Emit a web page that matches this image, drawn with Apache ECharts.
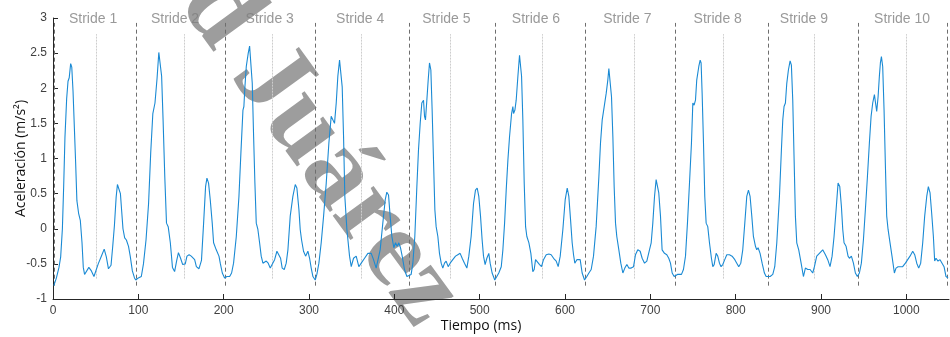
<!DOCTYPE html>
<html>
<head>
<meta charset="utf-8">
<script src="https://cdn.jsdelivr.net/npm/echarts@6/dist/echarts.min.js"></script>
<style>
  html, body { margin: 0; padding: 0; background: #fff; }
  #chart { width: 950px; height: 337px; }
</style>
</head>
<body>
<div id="chart"></div>
<script>
// señal de aceleración (tiempo en ms, aceleración en m/s²)
const tiempo = [
  1, 4, 7, 9, 11, 12.5, 14, 16, 17.6, 19, 20.7, 22, 23.5, 25, 26.5, 28, 30, 32, 34, 35.5,
  37, 39, 42, 45, 48, 50, 53, 57, 60, 62.5, 65, 68, 70, 72, 74, 75.5, 77.5, 79, 80.5, 82,
  84, 86, 88.5, 90.5, 93, 95.5, 97, 100, 103.5, 106, 109, 112, 114.5, 117, 119.5, 122, 124, 125.8, 127.3, 129,
  131, 133, 135, 137.5, 140, 142.5, 145, 147, 149.5, 152, 155, 157, 159.5, 162, 166, 168, 171, 174,
  176.5, 178.8, 180.4, 182.3, 184.3, 186.6, 188.2, 191.3, 194.5, 196, 198.4, 201.1, 203.8, 207, 209.3, 211.6,
  214.8, 217.9, 220.2, 222.6, 223.7, 224.9, 226.5, 228.8, 230.4, 231.9, 233.5, 235.1, 236.6, 238.2, 240.1, 242.1,
  244, 246, 247.9, 249.9, 252.2, 254.6, 256.9, 259.7, 262.4, 264.7, 266.7, 268.6, 271, 273.3, 275.3, 278,
  281.1, 283.9, 285.8, 288.2, 289.7, 291.3, 293.6, 296, 298.7, 300.7, 302.6, 304.6, 307.3, 309.2, 311.6, 314.3,
  317.1, 320.2, 323.3, 326, 328, 329.9, 331.9, 333.8, 335.8, 337.4, 338.9, 340.5, 342, 344.4, 347.5,
  349.5, 352.2, 355.3, 358.4, 361.2, 365.1, 369, 372.9, 375.6, 378.7, 380.7, 383.4, 386.5, 389.3, 391.2, 393.2,
  395.1, 397.1, 399.4, 401.4, 403.3, 405.3, 407.2, 409.2, 411.9, 414.7, 417, 419.7, 421.7, 424, 426.4, 428.3,
  430.3, 432.2, 434.2, 435.4, 436.5, 438.1, 439.7, 441.2, 442.8, 444.3, 445.9, 447.5, 449, 451, 452.9, 454.9,
  456.8, 458.8, 460.7, 463.1, 465.4, 468.5, 471.7, 474.4, 477.1, 479.5, 482.2, 485, 487.3, 490, 492.8, 495.1,
  497.1, 499, 501, 502.9, 504.5, 506.4, 508.4, 510.7, 512.3, 514.6, 517.7, 520.1, 522.4,
  525.3, 527.2, 529.2, 531.1, 533.1, 535, 537.4, 538.9, 539.7, 541.3, 542.8, 544.8, 546.7, 547.9, 549.1, 550.6,
  552.2, 553.8, 555.3, 557.7, 560, 562.3, 563.9, 565.5, 567.8, 570.2, 572.5, 574.8, 578, 581.1, 583.8, 586.6,
  589.7, 592, 594.4, 597.5, 600.2, 602.6, 604.5, 606.5, 608.4, 610, 611.5, 613.9, 615.8, 617.8, 620.1, 622.9,
  625.6, 628, 630.7, 633.4, 636.5, 639.7, 641.6, 643.6, 645.1, 646.7, 648.3, 650.2, 651.4, 652.9, 654.5, 656.1,
  657.6, 659.2, 660.7, 663.1, 665.4, 667.8, 670.1, 672.5, 674.8, 677.5, 680.3, 682.6, 685.3, 688.1, 690.4, 693.2,
  695.9, 699,
  701, 702.9, 704.9, 706.8, 708.4, 709.9, 711.9, 713.8, 716.6, 719.3, 721.6, 723.6, 725.6, 727.9, 729.5, 731.8,
  734.1, 736.5, 738.8, 741.2, 743.5, 745.9, 748.2, 749.8, 751.3, 752.9, 754.4, 756.8, 758.4, 759.5, 760.7, 762.3,
  763.8, 765.4, 767.3, 769.3, 771.6, 773.2, 774.8, 777.1, 779, 781, 782.9, 784.9, 787.2, 789.6, 792.7, 795.8,
  799, 801.3, 803.6, 806, 808.3, 810.7, 813, 815, 816.9, 818.9, 820.8, 823.2, 824.7, 826.3, 828.6, 831,
  833.7, 835.7, 838, 840.4, 843.5, 845.8, 848.2, 851.3, 853.6, 855.2, 856.7, 858.3, 859.9, 861.8, 863.8, 865.3,
  866.9, 868.5, 870, 871.6, 873.9,
  876.7, 879.4, 881.7, 884.5, 887.2, 890.3, 892.3, 895, 898.1, 902, 905.2, 907.9, 910.6, 913, 915.3, 917.7,
  920, 922, 923.9, 925.5, 927, 929.4, 931.7, 933.3, 935.6, 938, 940.3, 942.6, 945, 947.3, 949.7, 952,
  954.4, 956.7, 958.7, 960.6, 962.6, 963.7, 965.3, 966.9, 968.4, 969.6, 970.8, 972.3, 973.9, 975.4, 977, 978.6,
  980.9, 983.2, 986, 987.9, 990.3, 992.6, 995.7, 998.9, 1001.6, 1004.3, 1007.5, 1009.8, 1012.2, 1014.5, 1016.8, 1019.2,
  1021.5, 1023.9, 1025.8, 1027.8, 1029.7, 1031.7, 1033.2, 1034.8, 1037.1, 1039.5, 1041.8, 1044.2, 1046.5, 1048.9
];
const aceleracion = [
  -0.81, -0.70, -0.55, -0.40, 0.00, 0.60, 1.30, 1.85, 2.10, 2.15, 2.35, 2.30, 1.95, 1.45, 0.95, 0.40, 0.22, 0.12, -0.20, -0.55,
  -0.65, -0.63, -0.55, -0.60, -0.68, -0.66, -0.50, -0.38, -0.29, -0.40, -0.57, -0.52, -0.25, 0.05, 0.45, 0.63, 0.65, 0.50, 0.25, 0.00,
  -0.13, -0.16, -0.25, -0.39, -0.60, -0.70, -0.73, -0.70, -0.68, -0.50, -0.16, 0.36, 1.08, 1.64, 1.79, 2.15, 2.51, 2.50, 2.17, 1.55,
  0.74, 0.08, 0.03, -0.20, -0.55, -0.61, -0.45, -0.34, -0.42, -0.51, -0.50, -0.39, -0.37, -0.39, -0.44, -0.54, -0.57, -0.45,
  0.08, 0.60, 0.72, 0.65, 0.41, 0.08, -0.20, -0.30, -0.39, -0.49, -0.63, -0.70, -0.68, -0.68, -0.63, -0.49,
  -0.11, 0.46, 1.08, 1.69, 1.74, 2.02, 2.31, 2.50, 2.60, 2.59, 2.07, 1.31, 0.65, 0.08, -0.01, -0.20,
  -0.39, -0.49, -0.49, -0.46, -0.49, -0.56, -0.54, -0.44, -0.32, -0.32, -0.42, -0.56, -0.58, -0.49, -0.30, 0.18,
  0.46, 0.63, 0.58, 0.27, -0.01, -0.16, -0.32, -0.39, -0.32, -0.42, -0.56, -0.68, -0.73, -0.65, -0.49, -0.20,
  0.18, 0.65, 1.22, 1.60, 1.61, 1.50, 1.79, 2.17, 2.40, 2.38, 2.02, 1.31, 0.46, -0.01, -0.39,
  -0.54, -0.42, -0.39, -0.54, -0.49, -0.42, -0.35, -0.35, -0.44, -0.56, -0.58, -0.30, 0.08, 0.41, 0.52, 0.48,
  0.18, -0.11, -0.27, -0.20, -0.25, -0.20, -0.27, -0.39, -0.58, -0.68, -0.70, -0.65, -0.49, -0.11, 0.60, 1.12,
  1.50, 1.79, 1.83, 1.60, 1.55, 1.83, 2.12, 2.36, 2.26, 1.69, 0.98, 0.27, 0.03, -0.11, -0.35, -0.49,
  -0.56, -0.49, -0.46, -0.54, -0.49, -0.44, -0.39, -0.37, -0.35, -0.42, -0.49, -0.56, -0.39, -0.11, 0.36, 0.55,
  0.58, 0.46, 0.18, -0.16, -0.39, -0.51, -0.42, -0.35, -0.49, -0.63, -0.73, -0.68, -0.63,
  -0.54, -0.30, 0.08, 0.55, 0.98, 1.31, 1.64, 1.74, 1.64, 1.69, 1.83, 2.17, 2.47, 2.45, 2.17, 1.55,
  0.65, 0.03, -0.11, -0.20, -0.35, -0.61, -0.58, -0.44, -0.46, -0.51, -0.54, -0.44, -0.37, -0.36, -0.37, -0.42,
  -0.46, -0.54, -0.39, -0.01, 0.41, 0.58, 0.46, 0.13, -0.20, -0.37, -0.49, -0.44, -0.42, -0.44, -0.63, -0.73,
  -0.68, -0.63, -0.58, -0.39, 0.03, 0.74, 1.22, 1.55, 1.67, 1.69, 1.93, 2.12, 2.28, 2.26, 1.88, 1.31,
  0.60, 0.08, -0.11, -0.30, -0.49, -0.63, -0.56, -0.51, -0.56, -0.56, -0.54, -0.37, -0.30, -0.32, -0.42, -0.49,
  -0.46, -0.30,
  -0.20, 0.08, 0.46, 0.70, 0.70, 0.51, 0.18, -0.30, -0.35, -0.37, -0.42, -0.49, -0.63, -0.68, -0.70, -0.65,
  -0.63, -0.65, -0.58, -0.39, 0.08, 0.65, 1.22, 1.79, 1.76, 1.83, 2.12, 2.31, 2.40, 2.36, 1.93, 1.22,
  0.46, 0.08, 0.03, -0.20, -0.42, -0.54, -0.51, -0.35, -0.39, -0.49, -0.54, -0.51, -0.44, -0.37, -0.37, -0.39,
  -0.44, -0.46, -0.54, -0.49, -0.30, 0.08, 0.46, 0.55, 0.46, 0.18, -0.11, -0.25, -0.30, -0.27, -0.35, -0.49,
  -0.63, -0.68, -0.68, -0.68, -0.65, -0.54, -0.20, 0.46, 1.12, 1.55, 1.74, 1.79, 2.07, 2.26, 2.39, 2.33,
  1.83, 0.98, 0.18, -0.20, -0.30,
  -0.49, -0.68, -0.56, -0.58, -0.58, -0.63, -0.54, -0.39, -0.35, -0.30, -0.37, -0.44, -0.54, -0.39, -0.11, 0.27,
  0.65, 0.60, 0.32, -0.01, -0.20, -0.25, -0.39, -0.42, -0.39, -0.49, -0.63, -0.68, -0.63, -0.49, -0.16, 0.27,
  0.74, 1.22, 1.60, 1.79, 1.91, 1.81, 1.67, 1.88, 2.17, 2.36, 2.45, 2.31, 1.69, 0.93, 0.18, -0.01,
  -0.20, -0.39, -0.63, -0.56, -0.54, -0.56, -0.54, -0.49, -0.44, -0.39, -0.32, -0.37, -0.49, -0.56, -0.49, -0.20,
  0.18, 0.46, 0.60, 0.51, 0.22, -0.11, -0.46, -0.42, -0.46, -0.44, -0.42, -0.54, -0.68, -0.70
];

// límites de cada zancada (líneas discontinuas) y mitad de zancada (líneas claras)
const strideBounds = [2, 97, 202, 307, 417, 518.6, 623.6, 729, 838.4, 943.4, 1048.4];
const strideMids = [50.8, 153.9, 257.4, 361.3, 465, 572.8, 681.4, 786, 892.3, 999.6];
const strideNames = ['Stride 1', 'Stride 2', 'Stride 3', 'Stride 4', 'Stride 5',
  'Stride 6', 'Stride 7', 'Stride 8', 'Stride 9', 'Stride 10'];
const strideLabelX = [47, 143, 254, 360, 461, 566, 673, 779, 880, 995];
const xTicks = [0, 100, 200, 300, 400, 500, 600, 700, 800, 900, 1000];

const boundLow = -0.81, boundHigh = 2.93;
const midLow = -0.71, midHigh = 2.77;

const chart = echarts.init(document.getElementById('chart'), null, { renderer: 'canvas' });

const serie = tiempo.map((t, i) => [t, aceleracion[i]]);

const markLines = [];
strideBounds.forEach(x => {
  markLines.push([
    { coord: [x, boundLow], lineStyle: { color: '#6e6e6e', width: 1, type: [4, 3] } },
    { coord: [x, boundHigh] }
  ]);
});
strideMids.forEach(x => {
  markLines.push([
    { coord: [x, midLow], lineStyle: { color: '#cdcdcd', width: 1, type: [2, 1] } },
    { coord: [x, midHigh] }
  ]);
});

chart.setOption({
  animation: false,
  backgroundColor: '#ffffff',
  grid: { left: 53, right: 1, top: 18, bottom: 38, containLabel: false, outerBoundsMode: 'none' },
  graphic: [{
    type: 'text',
    x: 320,
    y: 150,
    rotation: -54 * Math.PI / 180,
    z: -10,
    silent: true,
    style: {
      text: 'd Juárez',
      font: 'bold 110px "Liberation Serif"',
      fill: '#9d9d9d',
      align: 'center',
      verticalAlign: 'middle'
    }
  }],
  xAxis: {
    type: 'value',
    min: 0,
    max: 1050,
    name: 'Tiempo (ms)',
    nameLocation: 'middle',
    nameGap: 20,
    nameMoveOverlap: false,
    nameTextStyle: { fontFamily: 'Open Sans', fontSize: 14, color: '#111', padding: [0, 40, 0, 0] },
    axisLine: { show: true, onZero: false, lineStyle: { color: '#262626', width: 1 } },
    axisTick: { show: true, inside: true, length: 5, customValues: xTicks, lineStyle: { color: '#262626' } },
    axisLabel: {
      customValues: xTicks, margin: 6, fontFamily: 'Liberation Sans', fontSize: 12, color: '#404040',
      formatter: v => String(v)
    },
    splitLine: { show: false }
  },
  yAxis: {
    type: 'value',
    min: -1,
    max: 3,
    interval: 0.5,
    name: 'Aceleración (m/s²)',
    nameLocation: 'middle',
    nameGap: 25,
    nameMoveOverlap: false,
    nameTextStyle: { fontFamily: 'Open Sans', fontSize: 14, color: '#111' },
    axisLine: { show: true, onZero: false, lineStyle: { color: '#262626', width: 1 } },
    axisTick: { show: true, inside: true, length: 5, lineStyle: { color: '#262626' } },
    axisLabel: { margin: 6, fontFamily: 'Liberation Sans', fontSize: 12, color: '#404040' },
    splitLine: { show: false }
  },
  series: [
    {
      type: 'line',
      data: serie,
      showSymbol: false,
      smooth: false,
      lineStyle: { color: '#1a8ad4', width: 1.1 },
      z: 3,
      markLine: {
        silent: true,
        symbol: ['none', 'none'],
        label: { show: false },
        emphasis: { disabled: true },
        data: markLines,
        z: 1
      }
    },
    {
      type: 'scatter',
      data: strideLabelX.map((x, i) => ({ value: [x, 2.98], name: strideNames[i] })),
      symbolSize: 1,
      itemStyle: { color: 'transparent' },
      silent: true,
      label: {
        show: true,
        position: 'inside',
        formatter: p => p.name,
        fontFamily: 'Liberation Sans',
        fontSize: 14,
        color: '#7f7f7f'
      },
      z: 4
    }
  ]
});
</script>
</body>
</html>
